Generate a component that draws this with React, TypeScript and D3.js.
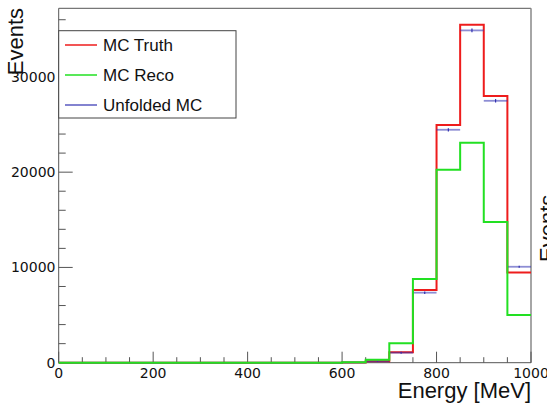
import React from 'react';
import * as d3 from 'd3';

// bin lower edges, 50 MeV bins from 0 to 1000
const binEdges = [0, 50, 100, 150, 200, 250, 300, 350, 400, 450, 500, 550, 600, 650, 700, 750, 800, 850, 900, 950, 1000];

const mcTruth = [0, 0, 0, 0, 0, 0, 0, 0, 0, 0, 0, 0, 20, 150, 1090, 7630, 24940, 35470, 27990, 9480];
const mcReco = [0, 0, 0, 0, 0, 0, 0, 0, 0, 0, 0, 0, 60, 320, 2030, 8780, 20250, 23090, 14760, 5000];
const unfolded = [0, 0, 0, 0, 0, 0, 0, 0, 0, 0, 0, 0, 20, 130, 1050, 7350, 24450, 34880, 27490, 10070];
const unfoldedErr = [0, 0, 0, 0, 0, 0, 0, 0, 0, 0, 0, 0, 15, 40, 100, 130, 170, 200, 180, 110];

const xTicks = [0, 200, 400, 600, 800, 1000];
const yTicks = [0, 10000, 20000, 30000];

const legendItems = [
  { label: 'MC Truth', color: '#ee1c1c' },
  { label: 'MC Reco', color: '#22e022' },
  { label: 'Unfolded MC', color: '#3030b0' },
];

const W = 547;
const H = 407;
const frame = { left: 58.7, right: 531, top: 8.3, bottom: 362.7 };
const font = '"Liberation Sans", Arial, sans-serif';
const tickFont = '"DejaVu Sans", sans-serif';

export default function App() {
  const x = d3.scaleLinear().domain([0, 1000]).range([frame.left, frame.right]);
  const y = d3.scaleLinear().domain([0, 37200]).range([frame.bottom, frame.top]);

  // step outline like a ROOT histogram
  const stepPath = (vals: number[]) => {
    const pts: [number, number][] = vals.map((v, i) => [binEdges[i], v]);
    pts.push([binEdges[binEdges.length - 1], vals[vals.length - 1]]);
    return d3.line<[number, number]>()
      .x(d => x(d[0]))
      .y(d => y(d[1]))
      .curve(d3.curveStepAfter)(pts) || '';
  };

  const xMinor = d3.range(0, 1001, 50).filter(v => v % 200 !== 0);
  const yMinor = d3.range(0, 37000, 2000).filter(v => v % 10000 !== 0);

  return (
    <svg width={W} height={H} style={{ position: 'fixed', left: 0, top: 0, background: '#fff' }}>
      <rect x={0} y={0} width={W} height={H} fill="#fff" />

      {/* frame */}
      <line x1={frame.left} x2={frame.right} y1={frame.top} y2={frame.top} stroke="#555" />
      <line x1={frame.right} x2={frame.right} y1={frame.top} y2={frame.bottom} stroke="#888" strokeWidth={1.5} />

      {/* x axis */}
      <line x1={frame.left} x2={frame.right} y1={frame.bottom} y2={frame.bottom} stroke="#555" />
      {xTicks.map(t => (
        <g key={'xt' + t}>
          <line x1={x(t)} x2={x(t)} y1={frame.bottom} y2={frame.bottom - 11} stroke="#555" />
          <text x={x(t)} y={378} textAnchor="middle" fontFamily={tickFont} fontSize={14} fill="#111">{t}</text>
        </g>
      ))}
      {xMinor.map(t => (
        <line key={'xm' + t} x1={x(t)} x2={x(t)} y1={frame.bottom} y2={frame.bottom - 5.5} stroke="#555" />
      ))}

      {/* y axis */}
      <line x1={frame.left} x2={frame.left} y1={frame.top} y2={frame.bottom} stroke="#555" />
      {yTicks.map(t => (
        <g key={'yt' + t}>
          <line x1={frame.left} x2={frame.left + 14} y1={y(t)} y2={y(t)} stroke="#555" />
          <text x={55.5} y={y(t)} dy="0.36em" textAnchor="end" fontFamily={tickFont} fontSize={14} fill="#111">{t}</text>
        </g>
      ))}
      {yMinor.map(t => (
        <line key={'ym' + t} x1={frame.left} x2={frame.left + 7} y1={y(t)} y2={y(t)} stroke="#555" />
      ))}

      {/* histograms */}
      <path d={stepPath(mcTruth)} fill="none" stroke={legendItems[0].color} strokeWidth={2} />
      {unfolded.map((v, i) => (
        <g key={'u' + i}>
          <line x1={x(binEdges[i])} x2={x(binEdges[i + 1])} y1={y(v)} y2={y(v)}
            stroke={legendItems[2].color} strokeWidth={1.8} strokeOpacity={0.55} />
          <line x1={x(binEdges[i] + 25)} x2={x(binEdges[i] + 25)}
            y1={y(v - unfoldedErr[i])} y2={y(v + unfoldedErr[i])}
            stroke={legendItems[2].color} strokeWidth={1.2} />
        </g>
      ))}
      <path d={stepPath(mcReco)} fill="none" stroke={legendItems[1].color} strokeWidth={2} />

      {/* legend */}
      <rect x={frame.left} y={30.7} width={236 - frame.left} height={87.3} fill="#fff" stroke="#444" strokeWidth={1} />
      {legendItems.map((item, i) => (
        <g key={item.label} transform={`translate(0, ${45 + i * 30})`}>
          <line x1={65} x2={97} y1={0} y2={0} stroke={item.color} strokeWidth={i === 2 ? 1.2 : 1.5} />
          <text x={103} y={0} dy="0.36em" fontFamily={font} fontSize={17} fill="#111">{item.label}</text>
        </g>
      ))}

      {/* axis titles */}
      <text transform="translate(23, 8) rotate(-90)" textAnchor="end" fontFamily={font} fontSize={22} fill="#111">Events</text>
      <text x={531} y={398} textAnchor="end" fontFamily={font} fontSize={22} fill="#111">Energy [MeV]</text>
      <text transform="translate(555, 262) rotate(-90)" textAnchor="start" fontFamily={font} fontSize={22} fill="#111">Events</text>
    </svg>
  );
}
